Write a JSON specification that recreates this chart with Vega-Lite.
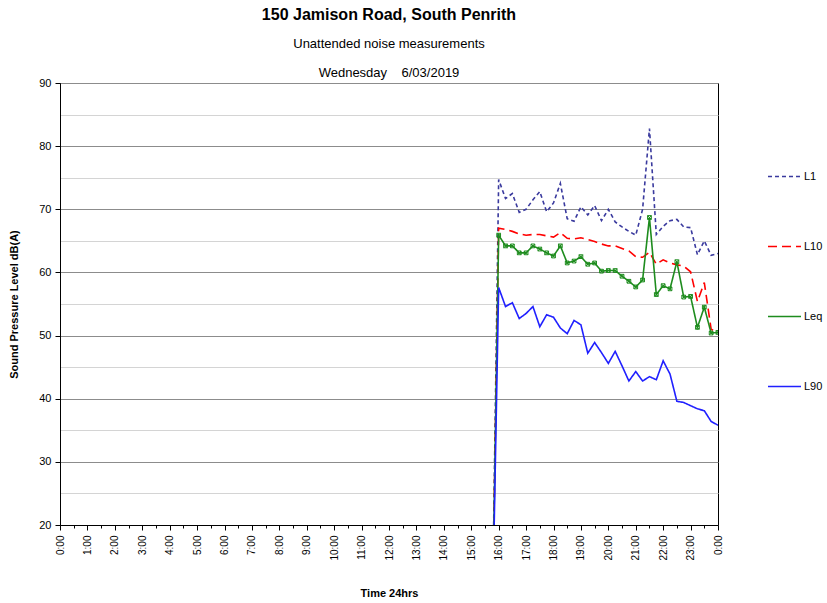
{
  "$schema": "https://vega.github.io/schema/vega-lite/v6.json",
  "width": 658,
  "height": 442,
  "autosize": {"type": "none"},
  "padding": {"left": 60, "top": 83, "right": 109, "bottom": 78},
  "background": "white",
  "config": {
    "font": "Liberation Sans",
    "view": {"stroke": "black", "strokeWidth": 1}
  },
  "title": {
    "text": "150 Jamison Road, South Penrith",
    "subtitle": ["Unattended noise measurements", "Wednesday\u00a0\u00a0\u00a0 6/03/2019"],
    "fontSize": 16,
    "fontWeight": "bold",
    "color": "black",
    "subtitleFontSize": 13,
    "subtitleColor": "black",
    "subtitleLineHeight": 29,
    "subtitlePadding": 15,
    "anchor": "middle",
    "frame": "group",
    "offset": -3
  },
  "data": {
    "values": [
      {"t": 15.75, "L1": 0, "L10": 0, "Leq": 0, "L90": 0},
      {"t": 16, "L1": 74.7, "L10": 67.0, "Leq": 65.9, "L90": 57.6},
      {"t": 16.25, "L1": 71.7, "L10": 66.8, "Leq": 64.2, "L90": 54.6},
      {"t": 16.5, "L1": 72.5, "L10": 66.5, "Leq": 64.2, "L90": 55.2},
      {"t": 16.75, "L1": 69.5, "L10": 66.1, "Leq": 63.1, "L90": 52.7},
      {"t": 17, "L1": 70.0, "L10": 65.9, "Leq": 63.1, "L90": 53.5},
      {"t": 17.25, "L1": 71.5, "L10": 66.0, "Leq": 64.2, "L90": 54.6},
      {"t": 17.5, "L1": 72.8, "L10": 66.0, "Leq": 63.7, "L90": 51.4},
      {"t": 17.75, "L1": 69.6, "L10": 65.8, "Leq": 63.1, "L90": 53.3},
      {"t": 18, "L1": 71.0, "L10": 65.6, "Leq": 62.6, "L90": 52.9},
      {"t": 18.25, "L1": 74.1, "L10": 66.3, "Leq": 64.2, "L90": 51.2},
      {"t": 18.5, "L1": 68.5, "L10": 65.4, "Leq": 61.5, "L90": 50.3},
      {"t": 18.75, "L1": 68.1, "L10": 65.3, "Leq": 61.8, "L90": 52.4},
      {"t": 19, "L1": 70.4, "L10": 65.5, "Leq": 62.5, "L90": 51.7},
      {"t": 19.25, "L1": 69.1, "L10": 65.2, "Leq": 61.3, "L90": 47.2},
      {"t": 19.5, "L1": 70.6, "L10": 64.9, "Leq": 61.5, "L90": 48.9},
      {"t": 19.75, "L1": 68.2, "L10": 64.5, "Leq": 60.2, "L90": 47.3},
      {"t": 20, "L1": 70.0, "L10": 64.2, "Leq": 60.3, "L90": 45.6},
      {"t": 20.25, "L1": 68.0, "L10": 64.2, "Leq": 60.3, "L90": 47.5},
      {"t": 20.5, "L1": 67.2, "L10": 63.8, "Leq": 59.4, "L90": 45.2},
      {"t": 20.75, "L1": 66.5, "L10": 63.4, "Leq": 58.6, "L90": 42.8},
      {"t": 21, "L1": 65.9, "L10": 62.5, "Leq": 57.7, "L90": 44.3},
      {"t": 21.25, "L1": 70.0, "L10": 62.4, "Leq": 58.8, "L90": 42.8},
      {"t": 21.5, "L1": 82.8, "L10": 63.2, "Leq": 68.7, "L90": 43.5},
      {"t": 21.75, "L1": 66.0, "L10": 61.3, "Leq": 56.5, "L90": 43.0},
      {"t": 22, "L1": 67.3, "L10": 62.0, "Leq": 57.9, "L90": 46.0},
      {"t": 22.25, "L1": 68.2, "L10": 61.5, "Leq": 57.4, "L90": 43.9},
      {"t": 22.5, "L1": 68.4, "L10": 61.2, "Leq": 61.7, "L90": 39.6},
      {"t": 22.75, "L1": 67.2, "L10": 61.0, "Leq": 56.1, "L90": 39.4},
      {"t": 23, "L1": 67.1, "L10": 60.1, "Leq": 56.2, "L90": 38.9},
      {"t": 23.25, "L1": 62.8, "L10": 55.4, "Leq": 51.3, "L90": 38.4},
      {"t": 23.5, "L1": 65.0, "L10": 58.4, "Leq": 54.5, "L90": 38.1},
      {"t": 23.75, "L1": 62.7, "L10": 51.0, "Leq": 50.4, "L90": 36.4},
      {"t": 24, "L1": 63.0, "L10": 50.5, "Leq": 50.5, "L90": 35.8}
    ]
  },
  "transform": [{"fold": ["L1", "L10", "Leq", "L90"], "as": ["series", "value"]}],
  "encoding": {
    "x": {
      "field": "t",
      "type": "quantitative",
      "scale": {"domain": [0, 24], "nice": false, "zero": false},
      "axis": {
        "title": "Time 24hrs",
        "titleFontSize": 11,
        "titleFontWeight": "bold",
        "titleColor": "black",
        "titlePadding": 27,
        "values": [0,0.5,1,1.5,2,2.5,3,3.5,4,4.5,5,5.5,6,6.5,7,7.5,8,8.5,9,9.5,10,10.5,11,11.5,12,12.5,13,13.5,14,14.5,15,15.5,16,16.5,17,17.5,18,18.5,19,19.5,20,20.5,21,21.5,22,22.5,23,23.5,24],
        "labelExpr": "datum.value % 1 === 0 ? (datum.value % 24) + ':00' : ''",
        "labelAngle": -90,
        "labelFontSize": 10,
        "labelColor": "black",
        "labelPadding": 5,
        "labelOverlap": false,
        "labelFlush": false,
        "domainColor": "black",
        "tickColor": "black",
        "tickSize": {"condition": {"test": "datum.value % 1 !== 0", "value": 3}, "value": 5},
        "grid": false
      }
    },
    "y": {
      "field": "value",
      "type": "quantitative",
      "scale": {"domain": [20, 90], "nice": false, "zero": false},
      "axis": {
        "title": "Sound Pressure Level dB(A)",
        "titleFontSize": 11,
        "titleFontWeight": "bold",
        "titleColor": "black",
        "titlePadding": 19,
        "values": [20,25,30,35,40,45,50,55,60,65,70,75,80,85,90],
        "labelExpr": "datum.value % 10 === 0 ? datum.value : ''",
        "labelFontSize": 11,
        "labelColor": "black",
        "labelPadding": 4,
        "domainColor": "black",
        "tickColor": "black",
        "tickSize": 5,
        "tickOpacity": {"condition": {"test": "datum.value % 10 !== 0", "value": 0}, "value": 1},
        "grid": true,
        "gridColor": {"condition": {"test": "datum.value % 10 === 0", "value": "#8c8c8c"}, "value": "#d4d4d4"},
        "gridWidth": 1.2
      }
    }
  },
  "layer": [
    {
      "mark": {"type": "line", "clip": true, "strokeWidth": 1.6},
      "encoding": {
        "color": {
          "field": "series",
          "type": "nominal",
          "scale": {"domain": ["L1", "L10", "Leq", "L90"], "range": ["#3a3a9e", "#ff0000", "#1e8c1e", "#2020ff"]},
          "legend": {
            "title": null,
            "orient": "none",
            "legendX": 707,
            "legendY": 76,
            "symbolType": "stroke",
            "symbolSize": 1089,
            "symbolStrokeWidth": 1.5,
            "labelFontSize": 11,
            "labelColor": "black",
            "labelOffset": 2,
            "rowPadding": 47
          }
        },
        "strokeDash": {
          "field": "series",
          "type": "nominal",
          "scale": {"domain": ["L1", "L10", "Leq", "L90"], "range": [[4, 3], [9, 5], [1, 0], [1, 0]]},
          "legend": {
            "title": null,
            "orient": "none",
            "legendX": 707,
            "legendY": 76,
            "symbolType": "stroke",
            "symbolSize": 1089,
            "symbolStrokeWidth": 1.5,
            "labelFontSize": 11,
            "labelColor": "black",
            "labelOffset": 2,
            "rowPadding": 47
          }
        }
      }
    },
    {
      "transform": [{"filter": "datum.series === 'Leq'"}],
      "mark": {
        "type": "point",
        "clip": true,
        "shape": "M-1,-1L1,1M1,-1L-1,1M-1,-1L1,-1L1,1L-1,1Z",
        "size": 14,
        "filled": false,
        "color": "#1e8c1e",
        "strokeWidth": 1,
        "opacity": 1
      },
      "encoding": {}
    }
  ]
}
